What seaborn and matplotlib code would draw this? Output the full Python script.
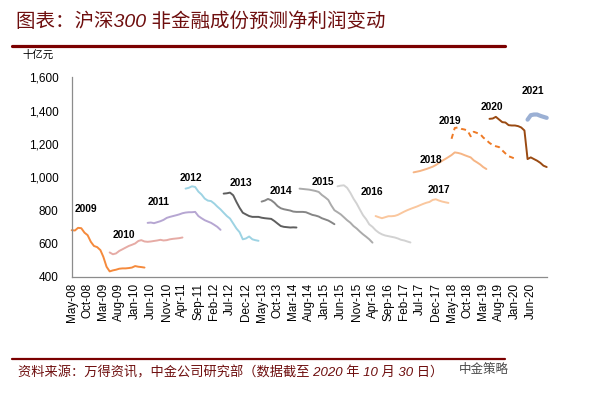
import numpy as np
import pandas as pd
import matplotlib
matplotlib.use("Agg")
import matplotlib.pyplot as plt
from matplotlib.lines import Line2D
from matplotlib.ticker import FuncFormatter
import seaborn as sns

# ---------------- data (monthly readings, 十亿元) ----------------
years = ["2009", "2010", "2011", "2012", "2013", "2014", "2015",
         "2016", "2017", "2018", "2019", "2020", "2021"]
start_months = ["2008-05", "2009-05", "2010-05", "2011-05", "2012-05", "2013-05",
                "2014-05", "2015-05", "2016-05", "2017-05", "2018-05", "2019-05", "2020-05"]

v2009 = [680, 678, 694, 692, 665, 650, 610, 585, 578, 560, 520, 460,
         432, 438, 442, 448, 450, 450, 452, 455, 464, 460, 458, 455]
v2010 = [546, 535, 540, 555, 565, 575, 585, 592, 600, 615, 620, 612,
         610, 612, 615, 618, 622, 618, 620, 625, 628, 630, 632, 636]
v2011 = [724, 726, 722, 728, 734, 742, 754, 760, 765, 770, 775, 782,
         786, 788, 788, 790, 765, 752, 740, 732, 724, 712, 700, 682]
v2012 = [930, 935, 944, 940, 912, 895, 870, 858, 855, 840, 822, 805,
         785, 765, 750, 720, 690, 668, 625, 630, 642, 625, 620, 616]
v2013 = [900, 902, 906, 890, 850, 815, 785, 775, 765, 760, 760, 760,
         755, 752, 750, 748, 735, 720, 705, 700, 698, 696, 697, 696]
v2014 = [852, 858, 868, 860, 845, 825, 812, 806, 802, 798, 792, 790,
         790, 790, 788, 780, 772, 768, 762, 752, 745, 738, 728, 716]
v2015 = [930, 928, 926, 924, 920, 916, 910, 892, 878, 862, 830, 800,
         788, 775, 758, 740, 725, 705, 690, 672, 655, 640, 625, 605]
v2016 = [944, 948, 950, 935, 905, 870, 840, 805, 770, 745, 715, 700,
         680, 665, 655, 648, 644, 640, 636, 630, 622, 618, 612, 606]
v2017 = [765, 758, 752, 758, 764, 764, 766, 772, 782, 792, 800, 808,
         815, 822, 830, 838, 845, 850, 862, 866, 858, 852, 848, 844]
v2018 = [1028, 1032, 1036, 1042, 1048, 1055, 1062, 1072, 1085, 1098, 1108, 1120,
         1132, 1148, 1145, 1140, 1132, 1125, 1118, 1100, 1088, 1075, 1060, 1048]
v2019 = [1230, 1295, 1298, 1290, 1286, 1280, 1245, 1272, 1265, 1258, 1238, 1222,
         1205, 1192, 1185, 1180, 1160, 1142, 1125, 1118, 1110]
v2020 = [1350, 1352, 1362, 1346, 1330, 1328, 1312, 1310, 1310, 1306, 1298, 1280,
         1108, 1118, 1108, 1098, 1085, 1068, 1060]
v2021 = [1345, 1372, 1376, 1376, 1368, 1362, 1356]

series_values = [v2009, v2010, v2011, v2012, v2013, v2014, v2015,
                 v2016, v2017, v2018, v2019, v2020, v2021]

y_ticks = [400, 600, 800, 1000, 1200, 1400, 1600]
x_tick_labels = ["May-08", "Oct-08", "Mar-09", "Aug-09", "Jan-10", "Jun-10", "Nov-10",
                 "Apr-11", "Sep-11", "Feb-12", "Jul-12", "Dec-12", "May-13", "Oct-13",
                 "Mar-14", "Aug-14", "Jan-15", "Jun-15", "Nov-15", "Apr-16", "Sep-16",
                 "Feb-17", "Jul-17", "Dec-17", "May-18", "Oct-18", "Mar-19", "Aug-19",
                 "Jan-20", "Jun-20"]

# ---------------- styles ----------------
colors = ["#F58A3C", "#E6ABA5", "#B6A6D2", "#9DD3E3", "#5E5E5E", "#868686", "#ABABAB",
          "#D2D2D2", "#FAC79E", "#F6B585", "#EE7A26", "#9A4A12", "#9BB0D4"]
widths = [1.4] * 12 + [3.0]
styles = ["-"] * 10 + [(0, (2.6, 2.0))] + ["-", "-"]

# label anchors (date, value) for the year annotations
label_anchor = [("2008-09-15", 810), ("2009-09-15", 650), ("2010-08-18", 850),
                ("2011-06-20", 996), ("2012-10-18", 964), ("2013-11-03", 914),
                ("2014-12-12", 970), ("2016-03-28", 910), ("2017-12-28", 920),
                ("2017-10-15", 1104), ("2018-04-12", 1336), ("2019-05-21", 1420),
                ("2020-06-25", 1516)]

sns.set_theme(style="white")
plt.rcParams["font.family"] = ["Liberation Sans", "Noto Sans CJK SC", "DejaVu Sans"]
plt.rcParams["axes.unicode_minus"] = False

fig = plt.figure(figsize=(6.08, 3.96), dpi=100)
ax = fig.add_axes([71.7 / 608, 1 - 276.7 / 396, (546.7 - 71.7) / 608, (276.7 - 77.3) / 396])

for yr, start, vals, c, lw, ls in zip(years, start_months, series_values, colors, widths, styles):
    df = pd.DataFrame({"date": pd.date_range(start + "-01", periods=len(vals), freq="MS"),
                       "value": vals})
    sns.lineplot(data=df, x="date", y="value", ax=ax, color=c, linewidth=lw,
                 linestyle=ls, errorbar=None, clip_on=False)

for yr, (d, v) in zip(years, label_anchor):
    ax.text(pd.Timestamp(d), v, yr, ha="center", va="center", fontsize=7.4,
            fontweight="bold", color="#000000")

ax.set_xlim(pd.Timestamp("2008-05-01"), pd.Timestamp("2020-11-01"))
ax.set_ylim(400, 1600)
ax.set_yticks(y_ticks)
ax.yaxis.set_major_formatter(FuncFormatter(lambda v, p: f"{int(v):,}"))
tick_dates = pd.date_range("2008-05-01", periods=len(x_tick_labels), freq="5MS")
ax.set_xticks(tick_dates)
ax.set_xticklabels(x_tick_labels, rotation=90)
ax.set_xlabel("")
ax.set_ylabel("")

for s in ["top", "right"]:
    ax.spines[s].set_visible(False)
for s in ["left", "bottom"]:
    ax.spines[s].set_color("#8C8C8C")
    ax.spines[s].set_linewidth(0.9)
ax.tick_params(axis="both", direction="in", length=3.6, width=0.8, color="#8C8C8C",
               labelsize=8.5, labelcolor="#000000")
ax.tick_params(axis="y", pad=9.5)
ax.tick_params(axis="x", pad=4.5)
ax.grid(False)

# ---------------- figure decorations ----------------
dark_red = "#6E0E0E"
fig.text(16 / 608, 1 - 22 / 396, "图表：沪深300 非金融成份预测净利润变动",
         fontsize=14, style="italic", color=dark_red, va="center", ha="left")
fig.add_artist(Line2D([11.7 / 608, 505 / 608], [1 - 45.7 / 396] * 2,
                      color="#7B0000", linewidth=2.3, transform=fig.transFigure))
fig.text(22 / 608, 1 - 55 / 396, "十亿元", fontsize=7.5, va="center", ha="left",
         color="#000000")
fig.add_artist(Line2D([11.7 / 608, 505 / 608], [1 - 359.3 / 396] * 2,
                      color="#7B0000", linewidth=1.6, transform=fig.transFigure))
fig.text(18 / 608, 1 - 373 / 396,
         "资料来源：万得资讯，中金公司研究部（数据截至 2020 年 10 月 30 日）",
         fontsize=9.5, style="italic", color=dark_red, va="center", ha="left")
fig.text(459 / 608, 1 - 370 / 396, "中金策略", fontsize=9, color="#4A4A4A",
         va="center", ha="left")

fig.savefig("out.png", dpi=100)
